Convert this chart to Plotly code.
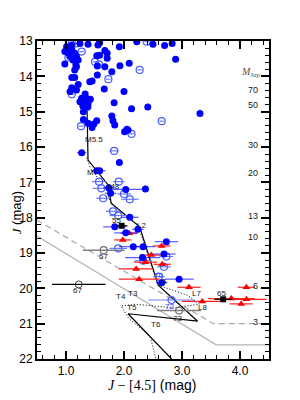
import plotly.graph_objects as go

# ---------------- data ----------------
# blue filled circles (x = J-[4.5], y = J, horizontal error)
fill_x = [1.01,1.10,1.24,1.38,1.55,1.58,1.92,2.22,2.50,2.70,2.83,2.89,3.31,
          0.98,1.04,1.10,1.15,1.18,1.07,1.12,1.21,1.17,0.98,1.15,1.10,1.15,1.18,
          1.53,1.58,1.67,1.71,1.71,1.54,1.67,1.79,1.93,2.09,1.54,1.41,1.45,1.21,1.10,1.18,1.07,1.66,2.00,
          1.33,1.33,1.27,1.37,1.42,1.24,1.31,1.38,1.29,1.37,1.83,2.13,2.41,1.30,1.30,1.38,1.53,1.79,1.81,1.84,2.05,
          1.48,1.45,2.01,2.07,
          1.27,1.92,1.53,1.58,1.74,2.03,2.37,1.77,2.10,1.84,2.03,2.24,2.33,2.16,2.73,2.69,2.32,2.95,2.65]
fill_J = [13.16,13.11,13.07,13.09,13.11,13.05,13.16,13.02,13.09,13.13,13.07,13.52,15.05,
          13.30,13.35,13.25,13.35,13.44,13.44,13.54,13.54,13.68,13.65,13.82,14.03,14.03,13.73,
          13.42,13.40,13.27,13.35,13.49,13.71,13.73,13.87,13.70,13.63,13.96,14.15,14.13,14.23,14.32,14.39,14.43,14.36,14.43,
          14.50,14.59,14.62,14.64,14.65,14.72,14.73,14.76,14.84,14.86,14.75,14.92,14.87,15.00,15.22,15.33,15.26,15.12,15.26,15.38,15.50,
          15.35,15.45,15.57,15.52,
          16.16,16.44,16.67,16.67,17.15,17.20,17.19,17.31,17.99,18.26,18.43,18.33,18.82,18.82,18.68,19.03,19.13,19.74,19.84]
fill_err = [0]*71 + [0.08,0.05,0.10,0.10,0.10,0.30,0.05,0.10,0.15,0.20,0.20,0.10,0.20,0.25,0.20,0.20,0.30,0.25,0.10]

# blue open circles
open_x = [1.04,1.10,1.18,1.27,1.50,1.57,1.73,2.27,1.10,1.37,1.26,2.39,2.65,2.13,
          1.83,1.57,1.91,1.61,2.00,2.10,1.64,1.81,1.90,1.90,2.33,2.73,2.69,2.60,2.82]
open_J = [13.47,13.05,13.07,13.30,13.59,13.66,14.08,13.82,14.51,14.86,15.41,13.02,15.27,15.63,
          16.11,16.98,16.98,17.17,17.33,17.48,17.45,17.82,17.94,18.87,19.22,19.10,19.39,19.67,20.33]
open_err = [0.04]*14 + [0.08,0.12,0.10,0.15,0.12,0.15,0.12,0.12,0.15,0.15,0.15,0.12,0.12,0.10,0.40]

# red triangles
red_x = [2.09,1.98,2.65,2.47,2.37,2.66,2.21,2.26,3.12,3.35,4.11,3.85,4.11,4.02]
red_J = [18.44,18.63,18.80,19.06,19.26,19.32,19.45,19.74,19.97,20.37,19.97,20.29,20.31,20.44]
red_err = [0.15,0.15,0.15,0.20,0.20,0.15,0.30,0.35,0.20,0.35,0.15,0.40,0.35,0.20]

# black squares
sq_x = [1.96, 3.71]
sq_J = [18.23, 20.31]
sq_err = [0.10, 0.15]

# grey open circles
grey_x = [1.65, 2.95]
grey_J = [18.92, 20.63]
grey_err = [0.36, 0.38]

# black open circle
blk_x = [1.22]
blk_J = [19.89]
blk_err = [0.46]

# spectral-type sequences
seq_x = [1.36,1.38,1.73,1.78,2.27,2.59,3.27,2.07,2.82]
seq_J = [14.70,16.37,17.08,17.60,18.26,19.91,20.93,20.72,22.0]
dot_x = [1.36,1.42,1.70,1.76,2.20,2.30,2.50,2.59,3.10,3.30,2.85,2.20,1.95,2.08,2.45,2.55]
dot_J = [16.30,16.60,17.20,17.55,18.15,18.50,19.50,19.91,20.20,20.45,20.55,20.45,20.50,20.85,21.35,22.0]

# limits
lim_solid_x = [0.5, 3.59, 4.5]
lim_solid_J = [18.52, 21.6, 21.6]
lim_dash_x = [0.5, 3.54, 4.5]
lim_dash_J = [18.07, 21.0, 21.0]

# mass scale labels (right)
mass_labels = ['70', '50', '30', '20', '13', '10', '6', '3']
mass_J = [14.39, 14.81, 15.94, 16.74, 17.94, 18.54, 19.93, 20.95]

# point / sequence labels
lab_text = ['M5.5','M7','M8','55','L2','57','67','5','73','L7','L8','65','T3','T4','T5','T6']
lab_x = [1.48,1.47,1.83,1.87,2.30,1.64,1.20,2.70,2.92,3.25,3.35,3.68,2.15,1.94,2.13,2.56]
lab_J = [15.80,16.72,17.12,18.07,18.21,19.09,20.07,19.81,20.85,20.14,20.54,20.14,20.16,20.24,20.54,21.01]
blue_lab_text = ['70', '72']
blue_lab_x = [2.60, 2.79]
blue_lab_J = [19.65, 20.50]

# ---------------- figure ----------------
fig = go.Figure()

fig.add_trace(go.Scatter(x=lim_solid_x, y=lim_solid_J, mode='lines',
                         line=dict(color='#b4b4b4', width=1.2), hoverinfo='skip'))
fig.add_trace(go.Scatter(x=lim_dash_x, y=lim_dash_J, mode='lines',
                         line=dict(color='#a8a8a8', width=1.2, dash='6px,4px'), hoverinfo='skip'))
fig.add_trace(go.Scatter(x=dot_x, y=dot_J, mode='lines',
                         line=dict(color='black', width=1, dash='1px,2px')))
fig.add_trace(go.Scatter(x=seq_x, y=seq_J, mode='lines',
                         line=dict(color='black', width=1.2)))

fig.add_trace(go.Scatter(x=open_x, y=open_J, mode='markers',
                         marker=dict(symbol='circle-open', size=7, color='#4a5cff', line=dict(width=1.2)),
                         error_x=dict(type='data', array=open_err, color='#6a7cff', thickness=1.2, width=0)))
fig.add_trace(go.Scatter(x=grey_x, y=grey_J, mode='markers',
                         marker=dict(symbol='circle-open', size=7, color='#707070', line=dict(width=1.2)),
                         error_x=dict(type='data', array=grey_err, color='#808080', thickness=1.5, width=0)))
fig.add_trace(go.Scatter(x=blk_x, y=blk_J, mode='markers',
                         marker=dict(symbol='circle-open', size=7, color='#404040', line=dict(width=1)),
                         error_x=dict(type='data', array=blk_err, color='black', thickness=1.2, width=0)))
fig.add_trace(go.Scatter(x=red_x, y=red_J, mode='markers',
                         marker=dict(symbol='triangle-up', size=7, color='#ff0000'),
                         error_x=dict(type='data', array=red_err, color='#ff2020', thickness=1.2, width=0)))
fig.add_trace(go.Scatter(x=fill_x, y=fill_J, mode='markers',
                         marker=dict(symbol='circle', size=7, color='#0000ff'),
                         error_x=dict(type='data', array=fill_err, color='rgba(0,0,255,0.65)', thickness=1.2, width=0)))
fig.add_trace(go.Scatter(x=sq_x, y=sq_J, mode='markers',
                         marker=dict(symbol='square', size=6, color='black'),
                         error_x=dict(type='data', array=sq_err, color='black', thickness=1.2, width=0)))

annotations = []
for t, x, y in zip(lab_text, lab_x, lab_J):
    annotations.append(dict(x=x, y=y, text=t, showarrow=False, xref='x', yref='y',
                            font=dict(size=8, color='#202020', family='Liberation Sans')))
for t, x, y in zip(blue_lab_text, blue_lab_x, blue_lab_J):
    annotations.append(dict(x=x, y=y, text=t, showarrow=False, xref='x', yref='y',
                            font=dict(size=8, color='#2a3cff', family='Liberation Sans')))
for t, y in zip(mass_labels, mass_J):
    annotations.append(dict(x=0.962, y=y, text=t, showarrow=False, xref='paper', yref='y',
                            xanchor='right', font=dict(size=9, color='#202020', family='Liberation Sans')))
annotations.append(dict(x=0.975, y=13.88, text='<i>M</i><sub>Jup</sub>', showarrow=False, xref='paper', yref='y',
                        xanchor='right', font=dict(size=10, color='#505050', family='Liberation Serif')))
annotations.append(dict(x=-0.088, y=0.46, xref='paper', yref='paper', showarrow=False, textangle=-90,
                        xanchor='center', yanchor='middle',
                        text="<i style='font-family:Liberation Serif'>J</i> (mag)",
                        font=dict(size=13, color='black', family='Liberation Sans')))
annotations.append(dict(x=0.496, y=-0.082, xref='paper', yref='paper', showarrow=False,
                        xanchor='center', yanchor='middle',
                        text="<span style='font-family:Liberation Serif'><i>J</i> − [4.5]</span> (mag)",
                        font=dict(size=14, color='black', family='Liberation Sans')))

# page body has an 8px margin: size/margins chosen so the plot box lands at x 37-269, y 41-359
fig.update_layout(width=292, height=392, margin=dict(l=29, r=31, t=33, b=41),
                  plot_bgcolor='white', paper_bgcolor='white', showlegend=False,
                  font=dict(family='Liberation Sans', size=12, color='black'),
                  annotations=annotations)
fig.update_xaxes(range=[0.5, 4.5], tickvals=[1, 2, 3, 4], ticktext=['1.0', '2.0', '3.0', '4.0'],
                 ticks='inside', ticklen=8, tickwidth=1.5, tickcolor='black',
                 showline=True, linewidth=2, linecolor='black', mirror='allticks',
                 showgrid=False, zeroline=False,
                 minor=dict(dtick=0.2, tick0=0, ticks='inside', ticklen=4, tickwidth=1, tickcolor='black'))
fig.update_yaxes(range=[22, 13], dtick=1, tick0=13,
                 ticks='inside', ticklen=8, tickwidth=1.5, tickcolor='black',
                 showline=True, linewidth=2, linecolor='black', mirror='allticks',
                 showgrid=False, zeroline=False,
                 minor=dict(dtick=0.2, tick0=13, ticks='inside', ticklen=4, tickwidth=1, tickcolor='black'))

fig.write_html("out.html")
